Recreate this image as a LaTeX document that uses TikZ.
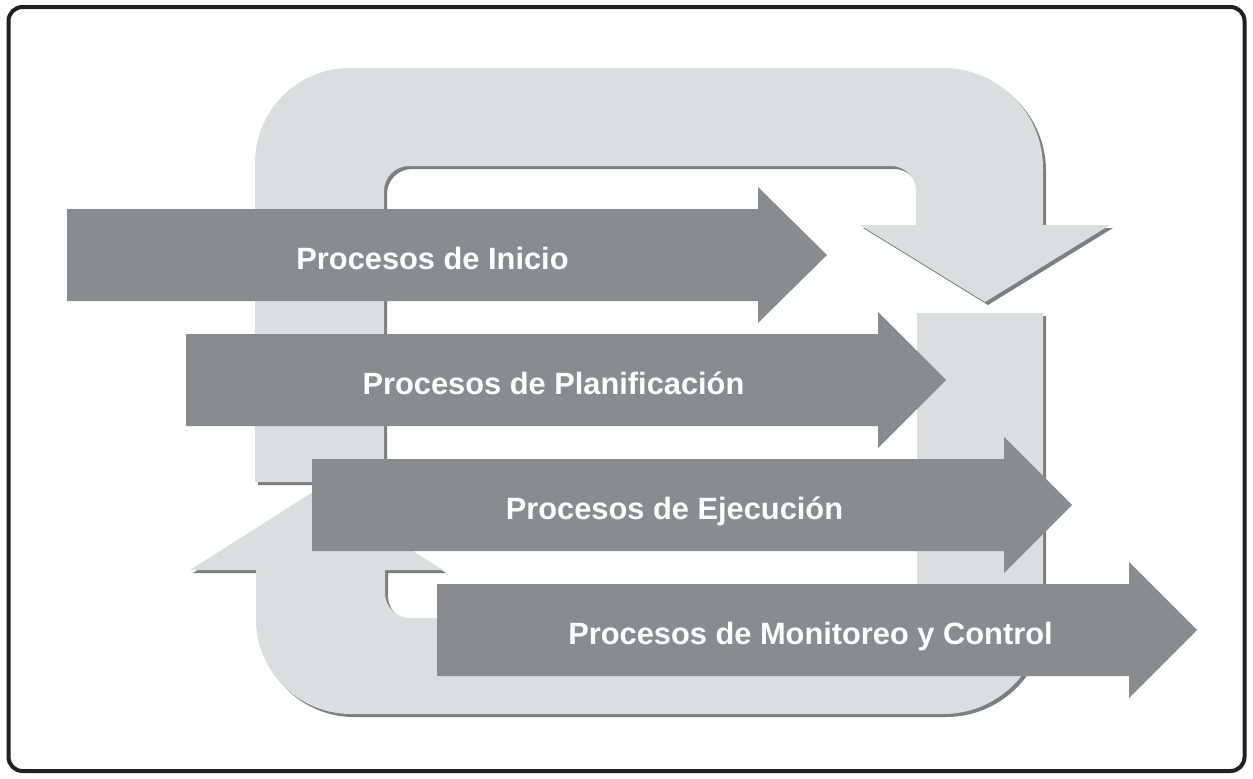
\documentclass[tikz,border=0pt]{standalone}
\usepackage{fontspec}
\setmainfont{Liberation Sans}
\usepackage{tikz}
\usetikzlibrary{shadows}
\definecolor{loopGray}{HTML}{DCDDDF}
\definecolor{loopShade}{HTML}{7D7E81}
\definecolor{procGray}{HTML}{8A8B8F}
\definecolor{frameInk}{HTML}{231F20}

\begin{document}
\begin{tikzpicture}[x=0.5pt,y=0.5pt,
  loopband/.style={fill=loopGray,
    drop shadow={shadow xshift=1.5pt,shadow yshift=-1.5pt,fill=loopShade,opacity=1}},
  procarrow/.style={fill=procGray},
  proclabel/.style={anchor=base,text=white,inner sep=0pt,
    font=\fontsize{15.4}{18}\selectfont\bfseries}]
\useasboundingbox (0,0) rectangle (1253,-778);
% outer frame
\draw[frameInk,line width=2pt,rounded corners=7pt] (8.5,-7) rectangle (1244.5,-771);
% upper half of the cycle, ending in the downward head
\fill[loopband] (255,-482) -- (255,-163)
  arc[start angle=180,end angle=90,radius=47.5pt] -- (943,-68)
  arc[start angle=90,end angle=0,radius=50pt] -- (1043,-225)
  -- (1110,-225) -- (985,-302) -- (860,-225) -- (916,-225) -- (916,-191)
  arc[start angle=0,end angle=90,radius=12.5pt] -- (409,-166)
  arc[start angle=90,end angle=180,radius=12.5pt] -- (384,-482) -- cycle;
% lower half of the cycle, ending in the upward head
\fill[loopband] (917,-313) -- (1043,-313) -- (1043,-614)
  arc[start angle=0,end angle=-90,radius=50pt] -- (351,-714)
  arc[start angle=270,end angle=180,radius=47.5pt] -- (256,-570)
  -- (190,-570) -- (316,-490) -- (443,-570) -- (385,-570) -- (385,-593)
  arc[start angle=180,end angle=270,radius=12.5pt] -- (917,-618) -- cycle;
% the four process groups, each shifted down and to the right
\foreach \s/\b/\t/\c/\lx/\nm/\txt in {
    67/758/827/255/432.5/Ini/Procesos de Inicio,
    186/878/946/380/553.5/Pla/Procesos de Planificación,
    312/1004/1072/505/674.5/Eje/Procesos de Ejecución,
    437/1129/1197/630/810.5/Mon/Procesos de Monitoreo y Control}{
  \pgfmathsetmacro\bodyT{-\c+46}
  \pgfmathsetmacro\bodyB{-\c-46}
  \pgfmathsetmacro\headT{-\c+68}
  \pgfmathsetmacro\headB{-\c-68}
  \fill[procarrow] (\s,\bodyT) -- (\b,\bodyT) -- (\b,\headT) -- (\t,-\c)
    -- (\b,\headB) -- (\b,\bodyB) -- (\s,\bodyB) -- cycle;
  \node[proclabel] (lbl\nm) at (\lx,-\c-14) {\txt};
}
\end{tikzpicture}
\end{document}
